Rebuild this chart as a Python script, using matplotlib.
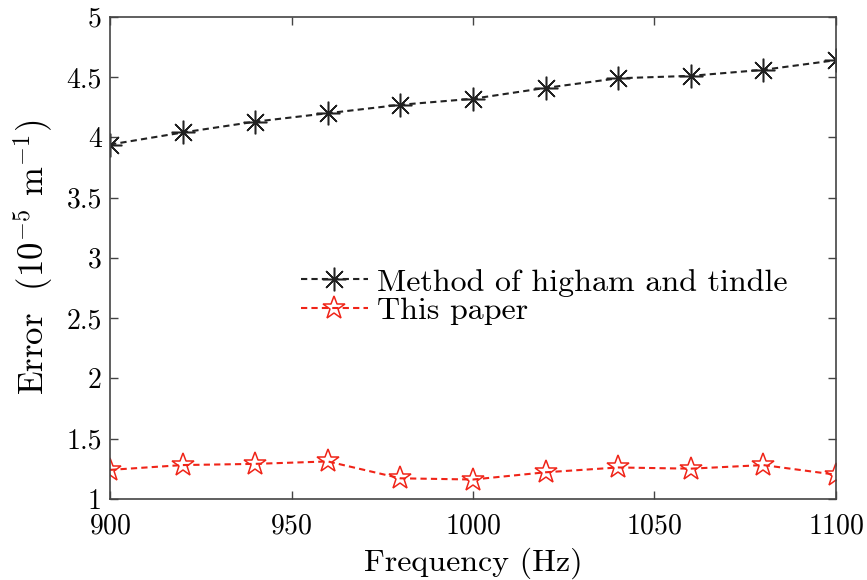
import matplotlib
matplotlib.use('Agg')
import matplotlib.pyplot as plt
import numpy as np

freq = [900, 920, 940, 960, 980, 1000, 1020, 1040, 1060, 1080, 1100]
err_higham = [3.94, 4.04, 4.13, 4.20, 4.27, 4.32, 4.41, 4.49, 4.51, 4.56, 4.64]
err_paper = [1.24, 1.28, 1.29, 1.31, 1.17, 1.16, 1.22, 1.26, 1.25, 1.28, 1.20]

plt.rcParams['font.family'] = 'cmr10'
plt.rcParams['mathtext.fontset'] = 'cm'
plt.rcParams['axes.formatter.use_mathtext'] = True

fig = plt.figure(figsize=(8.67, 5.8), dpi=100)
ax = fig.add_axes([0.127, 0.140, 0.837, 0.831])

ax.plot(freq, err_higham, color='#222222', linestyle=(0, (3, 2)), linewidth=1.5,
        marker=(8, 2, 0), markersize=17, markeredgewidth=1.1,
        label='Method of higham and tindle')
ax.plot(freq, err_paper, color='#f02418', linestyle=(0, (3, 2)), linewidth=1.5,
        marker='*', markersize=17, markerfacecolor='none', markeredgewidth=1.1,
        label='This paper')

ax.set_xlim(900, 1100)
ax.set_ylim(1, 5)
ax.set_xticks([900, 950, 1000, 1050, 1100])
ax.set_yticks(np.arange(1, 5.01, 0.5))
ax.set_yticklabels(['1', '1.5', '2', '2.5', '3', '3.5', '4', '4.5', '5'])

ax.tick_params(direction='in', top=True, right=True, labelsize=20, length=6,
               width=1.0, color='#444444')
ax.tick_params(axis='x', pad=10)
ax.tick_params(axis='y', pad=6)
for s in ax.spines.values():
    s.set_color('#444444')
    s.set_linewidth(1.2)

ax.set_xlabel('Frequency (Hz)', fontsize=23, labelpad=6)
ax.set_ylabel(r'Error  ($10^{-5}$ m$^{-1}$)', fontsize=25, labelpad=8)

ax.legend(loc='upper left', bbox_to_anchor=(0.245, 0.505), frameon=False,
          fontsize=23, handlelength=2.1, handletextpad=0.3, labelspacing=0.0,
          borderaxespad=0)

fig.savefig('out.png', dpi=100)
